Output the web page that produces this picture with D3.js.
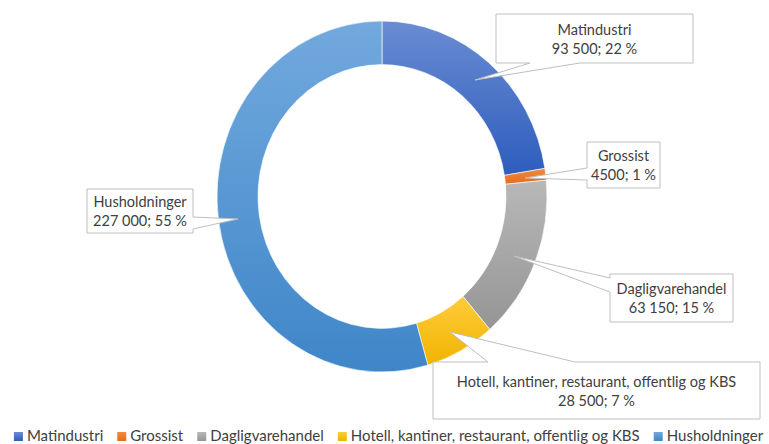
<!DOCTYPE html>
<html><head><meta charset="utf-8">
<script src="https://cdn.jsdelivr.net/npm/d3@7"></script>
<style>
html,body{margin:0;padding:0;background:#fff;}
svg{display:block;font-family:Lato,"Open Sans",sans-serif;}
</style></head>
<body>
<svg id="chart" width="769" height="444"></svg>
<script>
const categories = ["Matindustri","Grossist","Dagligvarehandel","Hotell, kantiner, restaurant, offentlig og KBS","Husholdninger"];
const values = [93500, 4500, 63150, 28500, 227000];
const valueLabels = ["93 500","4500","63 150","28 500","227 000"];
const percentLabels = ["22 %","1 %","15 %","7 %","55 %"];
const colors = ["#4472C4","#ED7D31","#A5A5A5","#FFC000","#5B9BD5"];
const gradTop = ["#6a8cd2","#f08a45","#b8b8b8","#ffcb3a","#72a9de"];
const gradBot = ["#2e5dbd","#e46d1c","#959595","#f0b400","#3f86c8"];

const svg = d3.select("#chart");
const textColor = "#404040";

const defs = svg.append("defs");
categories.forEach((c,i)=>{
  const g = defs.append("linearGradient").attr("id","g"+i).attr("x1",0).attr("y1",0).attr("x2",0).attr("y2",1);
  g.append("stop").attr("offset","0%").attr("stop-color",gradTop[i]);
  g.append("stop").attr("offset","100%").attr("stop-color",gradBot[i]);
});

const cx = 382, cy = 196.5, rOuter = 165, rInner = 124, yScale = 175.5/165;
const pie = d3.pie().sort(null).value(d=>d);
const arc = d3.arc().innerRadius(rInner).outerRadius(rOuter);
const arcs = pie(values);

const ring = svg.append("g").attr("transform",`translate(${cx},${cy}) scale(1,${yScale})`);
ring.selectAll("path").data(arcs).join("path")
  .attr("d",arc)
  .attr("fill",(d,i)=>`url(#g${i})`)
  .attr("stroke","#ffffff").attr("stroke-width",0.6);

const callouts = [
  {box:[496,14,693,63], side:"bottom", b:[530,580], tip:[475,80]},
  {box:[587,142,660,188], side:"left", b:[168,180], tip:[525,178]},
  {box:[610,274,733,322], side:"left", b:[278,292], tip:[514,256]},
  {box:[433,362,760,419], side:"top", b:[488,575], tip:[450,332]},
  {box:[87,189,193,233], side:"right", b:[217,229], tip:[238,219]}
];
function calloutPath(c){
  const [x0,y0,x1,y1] = c.box, [t0,t1] = c.b, [tx,ty] = c.tip;
  const p = [];
  p.push([x0,y0]);
  if(c.side==="top"){ p.push([t0,y0],[tx,ty],[t1,y0]); }
  p.push([x1,y0]);
  if(c.side==="right"){ p.push([x1,t0],[tx,ty],[x1,t1]); }
  p.push([x1,y1]);
  if(c.side==="bottom"){ p.push([t1,y1],[tx,ty],[t0,y1]); }
  p.push([x0,y1]);
  if(c.side==="left"){ p.push([x0,t1],[tx,ty],[x0,t0]); }
  return "M"+p.map(q=>q.join(",")).join("L")+"Z";
}
const lab = svg.append("g");
callouts.forEach((c,i)=>{
  lab.append("path").attr("d",calloutPath(c))
    .attr("fill","#ffffff").attr("stroke","#bfbfbf").attr("stroke-width",1);
  const mx = (c.box[0]+c.box[2])/2, my = (c.box[1]+c.box[3])/2;
  const t = lab.append("text").attr("x",mx).attr("text-anchor","middle")
    .attr("fill",textColor).style("font-size","14.5px");
  t.append("tspan").attr("x",mx).attr("y",my-4).text(categories[i]);
  t.append("tspan").attr("x",mx).attr("y",my+15).text(valueLabels[i]+"; "+percentLabels[i]);
});

const leg = svg.append("g");
const items = leg.selectAll("g").data(categories).join("g");
items.append("rect").attr("width",9).attr("height",9).attr("y",-9)
  .attr("fill",(d,i)=>`url(#g${i})`);
items.append("text").attr("x",13).attr("y",0).attr("fill",textColor)
  .style("font-size","15px").text(d=>d);
let x = 0;
const gap = 14;
items.each(function(){
  const w = d3.select(this).select("text").node().getComputedTextLength();
  d3.select(this).attr("transform",`translate(${x},0)`);
  x += 13 + w + gap;
});
const total = x - gap;
leg.attr("transform",`translate(${Math.max(4,(769-total)/2+4)},441)`);
</script>
</body></html>
